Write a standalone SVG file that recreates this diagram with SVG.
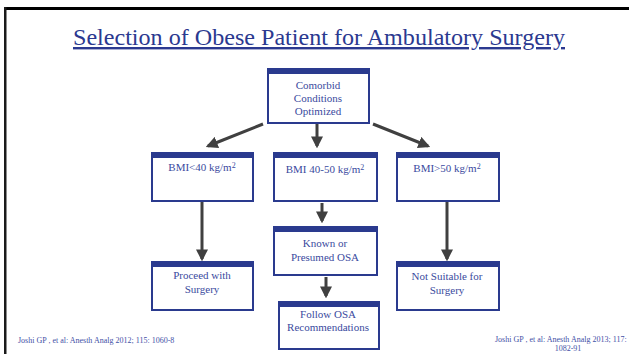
<svg xmlns="http://www.w3.org/2000/svg" width="629" height="354" viewBox="0 0 629 354">
<style>
.box{fill:#fff;stroke:#2a3a8e;stroke-width:2}
.bar{fill:#2a3a8e}
.t{font-family:'Liberation Serif','Times New Roman','DejaVu Serif',serif;font-size:11px;fill:#3a4a9e;text-anchor:middle}
.c{stroke:#404040;stroke-width:3;fill:none}
.f{font-family:'Liberation Serif','Times New Roman','DejaVu Serif',serif;font-size:8px;fill:#3f50a6}
.h{font-family:'Liberation Serif','Times New Roman','DejaVu Serif',serif;font-size:24px;fill:#2b3990;text-anchor:middle;text-decoration:underline}
</style>
<defs>
<marker id="ah" markerWidth="4" markerHeight="4" refX="3.2" refY="2" orient="auto" markerUnits="strokeWidth">
<path d="M0,0 L4,2 L0,4 Z" fill="#404040"/>
</marker>
</defs>
<rect x="0" y="0" width="629" height="354" fill="#fff"/>
<rect x="4" y="7" width="625" height="3" fill="#000"/>
<rect x="4" y="7" width="2.5" height="347" fill="#1a1a1a"/>
<g id="title">
<text class="h" x="319" y="45" textLength="492" lengthAdjust="spacingAndGlyphs">Selection of Obese Patient for Ambulatory Surgery</text>
</g>
<g id="connectors">
<line class="c" x1="263" y1="124" x2="208" y2="146" marker-end="url(#ah)"/>
<line class="c" x1="317" y1="124" x2="317" y2="146" marker-end="url(#ah)"/>
<line class="c" x1="373" y1="124" x2="428" y2="146" marker-end="url(#ah)"/>
<line class="c" x1="202" y1="202" x2="202" y2="259" marker-end="url(#ah)"/>
<line class="c" x1="447" y1="202" x2="447" y2="259" marker-end="url(#ah)"/>
<line class="c" x1="322" y1="203" x2="322" y2="221" marker-end="url(#ah)"/>
<line class="c" x1="326" y1="277" x2="326" y2="296" marker-end="url(#ah)"/>
</g>
<g id="n-comorbid">
<rect class="box" x="268" y="69" width="101" height="54"/>
<rect class="bar" x="267" y="68" width="103" height="6"/>
<text class="t" x="318" y="89">Comorbid</text>
<text class="t" x="318" y="102">Conditions</text>
<text class="t" x="318" y="115">Optimized</text>
</g>
<g id="n-bmi40">
<rect class="box" x="152" y="153" width="101" height="48"/>
<rect class="bar" x="151" y="152" width="103" height="6"/>
<text class="t" x="202" y="171">BMI&lt;40 kg/m<tspan font-size="8" dy="-3">2</tspan></text>
</g>
<g id="n-bmi4050">
<rect class="box" x="274" y="153" width="103" height="48"/>
<rect class="bar" x="273" y="152" width="105" height="6"/>
<text class="t" x="325" y="173">BMI 40-50 kg/m<tspan font-size="8" dy="-3">2</tspan></text>
</g>
<g id="n-bmi50">
<rect class="box" x="397" y="153" width="102" height="48"/>
<rect class="bar" x="396" y="152" width="104" height="6"/>
<text class="t" x="447" y="172">BMI&gt;50 kg/m<tspan font-size="8" dy="-3">2</tspan></text>
</g>
<g id="n-osa">
<rect class="box" x="274" y="227" width="103" height="48"/>
<rect class="bar" x="273" y="226" width="105" height="6"/>
<text class="t" x="325" y="247">Known or</text>
<text class="t" x="325" y="261">Presumed OSA</text>
</g>
<g id="n-proceed">
<rect class="box" x="152" y="262" width="101" height="48"/>
<rect class="bar" x="151" y="261" width="103" height="6"/>
<text class="t" x="202" y="279">Proceed with</text>
<text class="t" x="202" y="293">Surgery</text>
</g>
<g id="n-notsuitable">
<rect class="box" x="397" y="262" width="102" height="48"/>
<rect class="bar" x="396" y="261" width="104" height="6"/>
<text class="t" x="447" y="280">Not Suitable for</text>
<text class="t" x="447" y="294">Surgery</text>
</g>
<g id="n-follow">
<rect class="box" x="279" y="302" width="100" height="47"/>
<rect class="bar" x="278" y="301" width="102" height="6"/>
<text class="t" x="328" y="318">Follow OSA</text>
<text class="t" x="328" y="331">Recommendations</text>
</g>
<g id="footer">
<text class="f" x="18" y="343">Joshi GP , et al: Anesth Analg 2012; 115: 1060-8</text>
<text class="f" x="495" y="342">Joshi GP , et al: Anesth Analg 2013; 117:</text>
<text class="f" x="568" y="350.5" text-anchor="middle">1082-91</text>
</g>
</svg>
